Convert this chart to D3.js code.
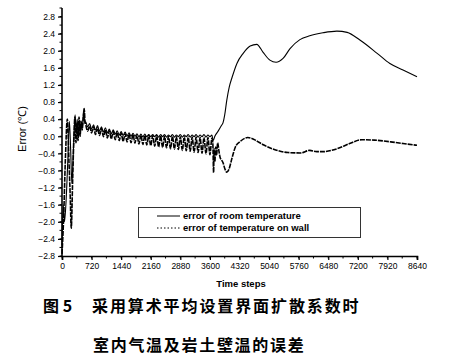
<!DOCTYPE html>
<html><head><meta charset="utf-8">
<script src="https://cdn.jsdelivr.net/npm/d3@7/dist/d3.min.js"></script>
<style>
html,body{margin:0;padding:0;background:#fff;}
svg{display:block;}
</style></head>
<body>
<svg id="c" width="458" height="359"></svg>
<script>
// ---- data ----
const xTicks = [0,720,1440,2160,2880,3600,4320,5040,5760,6480,7200,7920,8640];
const yTicks = [-2.8,-2.4,-2.0,-1.6,-1.2,-0.8,-0.4,0.0,0.4,0.8,1.2,1.6,2.0,2.4,2.8];
const legendLabels = ["error of room temperature","error of temperature on wall"];
const xTitle = "Time steps";
const yTitle = "Error (\u2103)";
const caption1a = "图 5";
const caption1b = "采用算术平均设置界面扩散系数时";
const caption2 = "室内气温及岩土壁温的误差";

// room temperature error: [time step, error]
const roomError = [
 [0,-2.55],[30,-1.6],[60,-2.0],[100,-1.5],[140,-0.6],[180,0.35],[210,-0.3],[240,-1.1],[270,-0.5],[300,0.2],
 [320,0.5],[345,0.05],[370,0.4],[395,0.0],[420,0.35],[445,0.1],[470,0.3],[495,0.2],[530,0.62],[555,0.3],
 [576,0.34],[624,0.22],[672,0.30],[720,0.17],[768,0.27],[816,0.14],[864,0.25],[912,0.12],[960,0.22],[1008,0.10],
 [1056,0.20],[1104,0.08],[1152,0.17],[1200,0.06],[1248,0.15],[1296,0.05],[1344,0.13],[1392,0.03],[1440,0.11],[1488,0.02],
 [1536,0.10],[1584,0.01],[1632,0.08],[1680,0.00],[1728,0.07],[1776,0.00],[1824,0.06],[1872,-0.01],[1920,0.05],[1968,-0.01],
 [2016,0.05],[2064,-0.01],[2112,0.04],[2160,-0.01],[2208,0.04],[2256,-0.01],[2304,0.04],[2352,-0.02],[2400,0.04],[2448,-0.01],
 [2496,0.04],[2544,-0.02],[2592,0.03],[2640,-0.01],[2688,0.04],[2736,-0.02],[2784,0.03],[2832,-0.01],[2880,0.04],[2928,-0.02],
 [2976,0.03],[3024,-0.01],[3072,0.04],[3120,-0.02],[3168,0.03],[3216,-0.01],[3264,0.04],[3312,-0.02],[3360,0.03],[3408,-0.01],
 [3456,0.04],[3504,-0.02],[3552,0.03],[3600,-0.01],[3648,0.03],[3680,-0.1],[3720,0.0],[3800,0.12],[3880,0.25],[3920,0.32],
 [3960,0.5],[4010,0.84],[4070,1.15],[4140,1.38],[4260,1.71],[4410,1.94],[4580,2.11],[4740,2.15],[4890,1.97],[5060,1.78],
 [5210,1.73],[5380,1.82],[5550,2.05],[5790,2.26],[6030,2.35],[6350,2.42],[6690,2.46],[6940,2.43],[7250,2.25],[7670,1.94],
 [7980,1.70],[8300,1.55],[8640,1.39]
];

// wall temperature error: [time step, error]
const wallError = [
 [0,-2.75],[40,-1.9],[80,-0.6],[130,0.4],[170,-0.6],[200,-1.4],[225,-2.15],[260,-1.0],[290,0.0],[315,0.45],
 [340,-0.15],[365,0.3],[390,-0.1],[415,0.45],[440,0.0],[465,0.35],[490,0.15],[515,0.4],[540,0.65],[560,0.35],
 [576,0.28],[624,0.12],[672,0.24],[720,0.08],[768,0.22],[816,0.04],[864,0.20],[912,0.02],[960,0.18],[1008,-0.01],
 [1056,0.15],[1104,-0.04],[1152,0.13],[1200,-0.06],[1248,0.11],[1296,-0.08],[1344,0.09],[1392,-0.10],[1440,0.07],[1488,-0.12],
 [1536,0.06],[1584,-0.13],[1632,0.05],[1680,-0.15],[1728,0.04],[1776,-0.16],[1824,0.03],[1872,-0.18],[1920,0.03],[1968,-0.19],
 [2016,0.02],[2064,-0.20],[2112,0.02],[2160,-0.22],[2208,0.01],[2256,-0.23],[2304,0.01],[2352,-0.25],[2400,0.01],[2448,-0.26],
 [2496,0.00],[2544,-0.27],[2592,0.00],[2640,-0.29],[2688,0.00],[2736,-0.30],[2784,-0.01],[2832,-0.31],[2880,-0.01],[2928,-0.33],
 [2976,-0.01],[3024,-0.34],[3072,-0.02],[3120,-0.35],[3168,-0.02],[3216,-0.37],[3264,-0.02],[3312,-0.38],[3360,-0.03],[3408,-0.40],
 [3456,-0.03],[3504,-0.41],[3552,-0.03],[3600,-0.43],[3648,-0.05],[3670,-0.15],[3690,-0.85],[3700,-0.3],[3720,-0.6],[3740,-0.25],
 [3760,-0.45],[3790,-0.15],[3820,-0.35],[3850,-0.5],[3880,-0.55],[3920,-0.62],[3960,-0.75],[4010,-0.84],[4060,-0.78],[4140,-0.5],
 [4220,-0.25],[4340,-0.12],[4520,-0.03],[4620,-0.05],[4720,-0.1],[4900,-0.2],[5200,-0.32],[5500,-0.38],[5800,-0.39],[6030,-0.33],
 [6200,-0.36],[6350,-0.36],[6700,-0.29],[7000,-0.17],[7300,-0.08],[7600,-0.09],[8000,-0.13],[8300,-0.17],[8640,-0.21]
];

// ---- drawing ----
const svg = d3.select("#c");
const x = d3.scaleLinear().domain([0,8640]).range([62,417]);
const y = d3.scaleLinear().domain([-2.8,3.0]).range([256,8]);
const font = "Arial, 'Liberation Sans', sans-serif";

// minor ticks
const xMinor = d3.range(0,8640+1,360);
const yMinor = d3.range(-2.8,3.0001,0.2);
svg.append("g").selectAll("line").data(xMinor).join("line")
  .attr("x1",d=>x(d)).attr("x2",d=>x(d)).attr("y1",256).attr("y2",258.5)
  .attr("stroke","#000").attr("stroke-width",1);
svg.append("g").selectAll("line").data(yMinor).join("line")
  .attr("x1",59.5).attr("x2",62).attr("y1",d=>y(d)).attr("y2",d=>y(d))
  .attr("stroke","#000").attr("stroke-width",1);

// x axis
const gx = svg.append("g").attr("transform","translate(0,256)")
  .call(d3.axisBottom(x).tickValues(xTicks).tickFormat(d3.format("d")).tickSize(4).tickPadding(3));
gx.select(".domain").attr("stroke-width",1.6);
gx.selectAll("text").attr("font-family",font).attr("font-size",8.5).attr("fill","#000");
gx.selectAll(".tick line").attr("stroke-width",1.2);

// y axis
const gy = svg.append("g").attr("transform","translate(62,0)")
  .call(d3.axisLeft(y).tickValues(yTicks).tickFormat(d3.format(".1f")).tickSize(4).tickPadding(3));
gy.select(".domain").attr("stroke-width",1.6).attr("d","M0,8V256");
gy.selectAll("text").attr("font-family",font).attr("font-size",8.5).attr("fill","#000");
gy.selectAll(".tick line").attr("stroke-width",1.2);

// titles
svg.append("text").attr("x",241).attr("y",287).attr("text-anchor","middle")
  .attr("font-family",font).attr("font-weight","bold").attr("font-size",9.5).text(xTitle);
svg.append("text").attr("transform","translate(26,129) rotate(-90)").attr("text-anchor","middle")
  .attr("font-family",font).attr("font-size",11).text(yTitle);

// lines
const line = d3.line().x(d=>x(d[0])).y(d=>y(d[1])).curve(d3.curveMonotoneX);
svg.append("path").datum(wallError).attr("d",line).attr("fill","none")
  .attr("stroke","#000").attr("stroke-width",1.6).attr("stroke-dasharray","5,1");
svg.append("path").datum(roomError).attr("d",line).attr("fill","none")
  .attr("stroke","#000").attr("stroke-width",1.1);

// legend
const lg = svg.append("g");
lg.append("rect").attr("x",138.5).attr("y",207.5).attr("width",222).attr("height",30)
  .attr("fill","#fff").attr("stroke","#333").attr("stroke-width",1);
const legDash = [null,"1.5,2"];
legendLabels.forEach((t,i)=>{
  const yy = 216 + i*12;
  lg.append("line").attr("x1",157).attr("x2",180).attr("y1",yy).attr("y2",yy)
    .attr("stroke","#000").attr("stroke-width",1).attr("stroke-dasharray",legDash[i]);
  lg.append("text").attr("x",183).attr("y",yy+3).attr("font-family",font)
    .attr("font-weight","bold").attr("font-size",9.5).text(t);
});

// caption
const cjk = "'Noto Sans CJK SC', sans-serif";
svg.append("text").attr("x",43).attr("y",312).attr("font-family",cjk).attr("font-weight","bold")
  .attr("font-size",16).text(caption1a);
svg.append("text").attr("x",92).attr("y",312).attr("font-family",cjk).attr("font-weight","bold")
  .attr("font-size",16).attr("letter-spacing",1.9).text(caption1b);
svg.append("text").attr("x",93).attr("y",351).attr("font-family",cjk).attr("font-weight","bold")
  .attr("font-size",16).attr("letter-spacing",1.7).text(caption2);
</script>
</body></html>
